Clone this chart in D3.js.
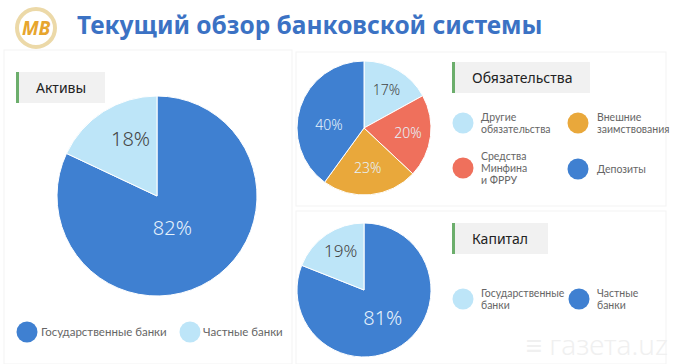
<!DOCTYPE html>
<html>
<head>
<meta charset="utf-8">
<script src="https://cdn.jsdelivr.net/npm/d3@7"></script>
<style>
  body { margin: 0; background: #fff; }
  svg { display: block; font-family: 'Noto Sans', sans-serif; }
</style>
</head>
<body>
<div id="chart"></div>
<script>
// chart data
const title = 'Текущий обзор банковской системы';

const assetsTitle = 'Активы';
const assetsLabels = ['Государственные банки', 'Частные банки'];
const assetsValues = [82, 18];

const liabTitle = 'Обязательства';
const liabLabels = ['Другие\nобязательства', 'Средства\nМинфина\nи ФРРУ', 'Внешние\nзаимствования', 'Депозиты'];
const liabValues = [17, 20, 23, 40];

const capitalTitle = 'Капитал';
const capitalLabels = ['Частные\nбанки', 'Государственные\nбанки'];
const capitalValues = [81, 19];

const C = {
  dark: '#3f80d1',
  light: '#bde5f8',
  orange: '#e9a83b',
  red: '#ef705c',
  green: '#6cae6c',
  box: '#f1f1f1'
};

const width = 680, height = 364;

const svg = d3.select('#chart').append('svg')
  .attr('width', width)
  .attr('height', height);

// panels
const panels = [[4, 50, 288, 314], [296, 52, 370, 154], [296, 211, 370, 153]];
svg.selectAll('rect.panel').data(panels).join('rect')
  .attr('class', 'panel')
  .attr('x', d => d[0]).attr('y', d => d[1])
  .attr('width', d => d[2]).attr('height', d => d[3])
  .attr('fill', '#fff')
  .attr('stroke', '#f3f3f3');

// logo
const logo = svg.append('g').attr('transform', 'translate(36,28)');
logo.append('circle').attr('r', 19).attr('fill', '#fff').attr('stroke', '#ecd9a8').attr('stroke-width', 4);
logo.append('text').attr('text-anchor', 'middle').attr('y', 7)
  .attr('font-size', 19).attr('font-weight', 700).attr('font-style', 'italic')
  .attr('fill', '#e7a52d').text('МВ');

// title
svg.append('text')
  .attr('x', 77).attr('y', 34)
  .attr('font-size', 24.5).attr('font-weight', 700)
  .attr('fill', '#3b72c4')
  .text(title);

// label box with green bar
function labelBox(x, y, w, text) {
  svg.append('rect').attr('x', x).attr('y', y).attr('width', w).attr('height', 31).attr('fill', C.box);
  svg.append('rect').attr('x', x).attr('y', y).attr('width', 3).attr('height', 31).attr('fill', C.green);
  svg.append('text').attr('x', x + 20).attr('y', y + 16).attr('dy', '0.35em')
    .attr('font-size', 14).attr('fill', '#222').text(text);
}

// pie
function drawPie(cx, cy, r, values, colors, labelOpts) {
  const pie = d3.pie().sort(null).value(d => d);
  const arcs = pie(values);
  const g = svg.append('g').attr('transform', `translate(${cx},${cy})`);
  g.selectAll('path').data(arcs).join('path')
    .attr('d', d3.arc().innerRadius(0).outerRadius(r))
    .attr('fill', (d, i) => colors[i])
    .attr('stroke', '#fff')
    .attr('stroke-width', 1);
  g.selectAll('text').data(arcs).join('text')
    .attr('transform', (d, i) => {
      const lr = r * labelOpts[i].k;
      const c = d3.arc().innerRadius(lr).outerRadius(lr).centroid(d);
      return `translate(${c[0] + (labelOpts[i].dx || 0)},${c[1] + (labelOpts[i].dy || 0)})`;
    })
    .attr('text-anchor', 'middle')
    .attr('dy', '0.35em')
    .attr('font-size', (d, i) => labelOpts[i].size)
    .attr('font-weight', 300)
    .attr('fill', (d, i) => colors[i] === C.light ? '#444' : '#e6f2fc')
    .text(d => d.value + '%');
}

function legendItem(x, y, color, text, fs, gap) {
  svg.append('circle').attr('cx', x).attr('cy', y).attr('r', 10.5).attr('fill', color);
  const lines = text.split('\n');
  const lh = 12;
  const t = svg.append('text').attr('font-size', fs).attr('fill', '#666')
    .style('font-family', 'Lato, sans-serif');
  lines.forEach((l, i) => {
    t.append('tspan').attr('x', x + gap)
      .attr('y', y - (lines.length - 1) * lh / 2 + i * lh)
      .attr('dy', '0.35em').text(l);
  });
}

// assets
labelBox(16, 72, 89, assetsTitle);
drawPie(157, 196, 100, assetsValues, [C.dark, C.light],
  [{k: 0.38, size: 20, dx: -5}, {k: 0.68, size: 20, dx: 10}]);
legendItem(27, 332, C.dark, assetsLabels[0], 11.5, 14);
legendItem(190, 332, C.light, assetsLabels[1], 11.5, 13);

// liabilities
labelBox(452, 62, 138, liabTitle);
drawPie(364, 128, 67, liabValues, [C.light, C.red, C.orange, C.dark],
  [{k: 0.66, size: 14}, {k: 0.66, size: 14}, {k: 0.6, size: 14}, {k: 0.55, size: 14, dy: 8}]);
legendItem(463, 123, C.light, liabLabels[0], 10.5, 18);
legendItem(463, 168, C.red, liabLabels[1], 10.5, 18);
legendItem(578, 123, C.orange, liabLabels[2], 10.5, 19);
legendItem(578, 169, C.dark, liabLabels[3], 10.5, 19);

// capital
labelBox(452, 223, 96, capitalTitle);
drawPie(364, 290, 67, capitalValues, [C.dark, C.light],
  [{k: 0.5, size: 20}, {k: 0.7, size: 17, dx: 3}]);
legendItem(463, 299, C.light, capitalLabels[1], 10.5, 18);
legendItem(579, 299, C.dark, capitalLabels[0], 10.5, 18);

// watermark
svg.append('text')
  .attr('x', 668).attr('y', 355)
  .attr('text-anchor', 'end')
  .attr('font-size', 28).attr('font-weight', 300)
  .attr('fill', '#f0f0f0')
  .text('≡ газета.uz');
</script>
</body>
</html>
